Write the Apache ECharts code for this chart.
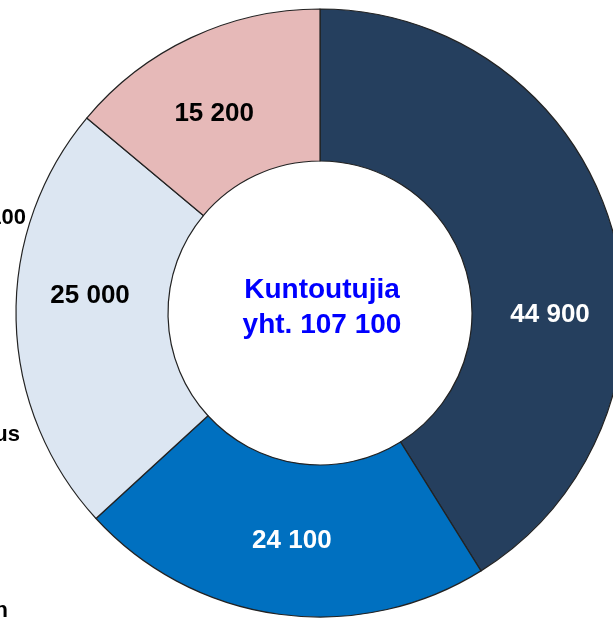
<!DOCTYPE html>
<html>
<head>
<meta charset="utf-8">
<script src="https://cdn.jsdelivr.net/npm/echarts@6/dist/echarts.min.js"></script>
<style>
  html, body { margin: 0; padding: 0; background: #fff; }
  #chart { width: 613px; height: 619px; }
</style>
</head>
<body>
<div id="chart"></div>
<script>
// slices, clockwise from 12 o'clock
var values = [44900, 24100, 25000, 15200];
var valueLabels = ['44 900', '24 100', '25 000', '15 200'];
var sliceColors = ['#253f5e', '#0070c0', '#dce6f2', '#e6b9b8'];
var labelColors = ['#ffffff', '#ffffff', '#000000', '#000000'];
var centerText = 'Kuntoutujia\nyht. 107 100';

// label nudges away from the ring middle (px)
var labelShift = [[8, 65], [3, -1], [1, -22], [-8, 10]];

var chart = echarts.init(document.getElementById('chart'));

var option = {
  animation: false,
  textStyle: { fontFamily: 'Liberation Sans, Arial, sans-serif' },
  graphic: [
    // legend text cut off by the crop on the left
    { type: 'text', right: 533, top: -22, style: { text: 'Ammatillinen', font: 'bold 22px Liberation Sans', fill: '#000' } },
    { type: 'text', right: 587, top: 207, style: { text: 'n. 24 100', font: 'bold 22px Liberation Sans', fill: '#000' } },
    { type: 'text', right: 593, top: 424, style: { text: 'Kuntoutus', font: 'bold 22px Liberation Sans', fill: '#000' } },
    { type: 'text', right: 605, top: 600, style: { text: 'Kuntoutujien', font: 'bold 22px Liberation Sans', fill: '#000' } },
    {
      type: 'text',
      x: 322, y: 308,
      style: {
        text: centerText,
        font: 'bold 28px Liberation Sans',
        fill: '#0000ff',
        align: 'center',
        verticalAlign: 'middle',
        lineHeight: 35
      }
    }
  ],
  series: [{
    type: 'pie',
    center: [320, 313],
    radius: [152, 304],
    startAngle: 90,
    clockwise: true,
    silent: true,
    itemStyle: { borderColor: '#222', borderWidth: 1.2 },
    label: {
      show: true,
      position: 'inside',
      fontSize: 26,
      fontWeight: 'bold',
      fontFamily: 'Liberation Sans',
      formatter: function (p) { return valueLabels[p.dataIndex]; }
    },
    labelLayout: function (p) {
      return { dx: labelShift[p.dataIndex][0], dy: labelShift[p.dataIndex][1] };
    },
    data: values.map(function (v, i) {
      return {
        value: v,
        itemStyle: { color: sliceColors[i] },
        label: { color: labelColors[i] }
      };
    })
  }]
};

chart.setOption(option);
</script>
</body>
</html>
